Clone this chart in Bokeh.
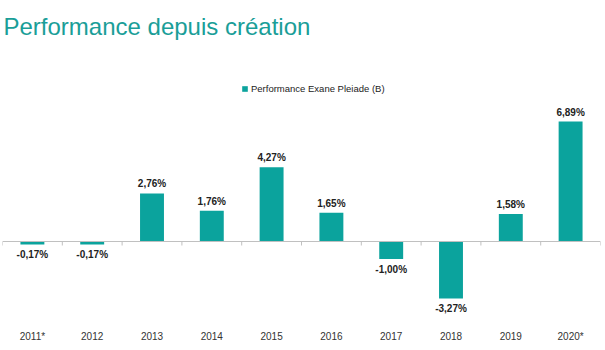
from bokeh.plotting import figure
from bokeh.models import ColumnDataSource, Span, Label, Legend, LegendItem, Range1d, FactorRange
from bokeh.core.properties import value
from bokeh.embed import file_html
from bokeh.resources import INLINE

years = ["2011*", "2012", "2013", "2014", "2015", "2016", "2017", "2018", "2019", "2020*"]
perf = [-0.17, -0.17, 2.76, 1.76, 4.27, 1.65, -1.00, -3.27, 1.58, 6.89]
series_name = "Performance Exane Pleiade (B)"
title_text = "Performance depuis création"

def fmt(v):
    return f"{v:.2f}".replace(".", ",") + "%"

BAR = "#0ba39d"
FONT = "Liberation Sans"

p = figure(width=605, height=350, x_range=FactorRange(*years, range_padding=0),
           y_range=Range1d(-4.655, 13.85), output_backend="svg", toolbar_location=None,
           y_axis_location=None, min_border_left=2, min_border_right=5,
           min_border_top=0, min_border_bottom=28, outline_line_color=None)
p.xgrid.visible = False
p.ygrid.visible = False

src = ColumnDataSource(dict(x=years, y=perf))
bars = p.vbar(x="x", top="y", bottom=0, width=0.4, source=src, fill_color=BAR, line_color=None)

# zero line and category separators
p.add_layout(Span(location=0, dimension="width", line_color="#c0c0c0", line_width=1))
sep_x = [(c, -0.5) for c in years] + [(years[-1], 0.5)]
p.segment(x0=sep_x, x1=sep_x, y0=[0] * len(sep_x), y1=[-0.23] * len(sep_x),
          line_color="#c0c0c0", line_width=1)

pos = [(x, v) for x, v in zip(years, perf) if v >= 0]
neg = [(x, v) for x, v in zip(years, perf) if v < 0]
ps = ColumnDataSource(dict(x=[a for a, _ in pos], y=[b for _, b in pos], t=[fmt(b) for _, b in pos]))
ns = ColumnDataSource(dict(x=[a for a, _ in neg], y=[b for _, b in neg], t=[fmt(b) for _, b in neg]))
p.text(x="x", y="y", text="t", source=ps, text_align="center", text_baseline="bottom",
       y_offset=-4, text_font=value(FONT), text_font_size="10px", text_font_style="bold",
       text_color="#222222")
p.text(x="x", y="y", text="t", source=ns, text_align="center", text_baseline="top",
       y_offset=5, text_font=value(FONT), text_font_size="10px", text_font_style="bold",
       text_color="#222222")

p.add_layout(Label(x=0, y=12.36, text=title_text, x_offset=1, text_font=FONT,
                   text_font_size="24px", text_color="#1a9e98", text_baseline="alphabetic"))

legend = Legend(items=[LegendItem(label=series_name, renderers=[bars])],
                location=(239, 228), orientation="horizontal")
legend.padding = 0
legend.margin = 0
legend.spacing = 0
legend.glyph_width = 7
legend.glyph_height = 7
legend.label_standoff = 3
legend.label_height = 10
legend.label_text_font = FONT
legend.label_text_font_size = "9.5px"
legend.label_text_color = "#222222"
legend.background_fill_alpha = 0
legend.border_line_color = None
p.add_layout(legend)

ax = p.xaxis[0]
ax.axis_line_color = None
ax.major_tick_line_color = None
ax.major_tick_in = 0
ax.major_tick_out = 0
ax.major_label_standoff = 8
ax.major_label_text_font = FONT
ax.major_label_text_font_size = "10px"
ax.major_label_text_color = "#333333"

open("out.html", "w").write(file_html(p, INLINE))
